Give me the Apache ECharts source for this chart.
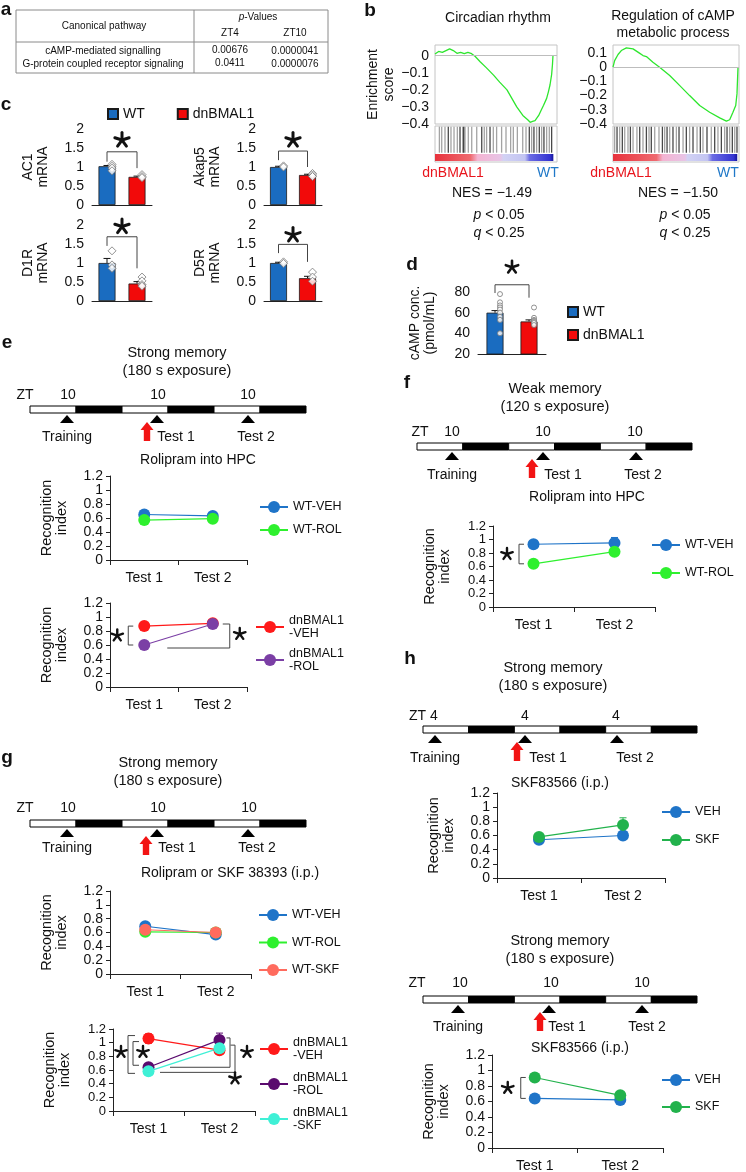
<!DOCTYPE html>
<html><head><meta charset="utf-8">
<script src="https://cdn.jsdelivr.net/npm/echarts@6/dist/echarts.min.js"></script>
<style>html,body{margin:0;padding:0;background:#fff}#c{width:746px;height:1172px}</style>
</head><body><div id="c"></div>
<script>
// ================= DATA =================
// panel a
const tablePathways = ['cAMP-mediated signalling', 'G-protein coupled receptor signaling'];
const tableZT4 = ['0.00676', '0.0411'];
const tableZT10 = ['0.0000041', '0.0000076'];
// panel b (GSEA) : rank (% of gene list) and running enrichment score
const gseaRankL = [0, 3, 6, 9, 12, 15, 18, 21, 24, 27, 30, 33, 37, 42, 48, 53, 59, 63, 67, 72, 76, 78, 80, 82, 85, 87, 89, 91.5, 93, 94.3, 95.6, 96.3, 96.7];
const gseaEsL = [0.01, 0.025, 0.02, 0.03, 0.04, 0.03, 0.014, 0.02, 0.012, 0.02, 0.012, -0.005, -0.035, -0.07, -0.114, -0.155, -0.2, -0.25, -0.3, -0.35, -0.375, -0.39, -0.385, -0.38, -0.35, -0.32, -0.29, -0.25, -0.21, -0.17, -0.11, -0.05, 0.0];
const gseaRankR = [0, 1.3, 4, 6.6, 10.6, 15.9, 21, 23.8, 26.5, 31.7, 37, 45, 53, 60.8, 68.8, 76.7, 84.7, 90, 92.6, 95.2, 97.4, 98.4, 99.2];
const gseaEsR = [0.0, 0.046, 0.089, 0.117, 0.136, 0.129, 0.099, 0.082, 0.075, 0.035, 0.0, -0.059, -0.13, -0.2, -0.27, -0.317, -0.357, -0.38, -0.37, -0.317, -0.27, -0.188, 0.0];
const gseaHitsL = [3.6, 5.5, 8.2, 13.1, 15.6, 18.3, 22.7, 24.6, 27.3, 30.1, 34.2, 40.4, 42.3, 47.8, 50.5, 54.6, 58.2, 62, 64.2, 67.5, 71.9, 74.6, 79.2, 83.3, 87.4, 91.5, 93.7];
const gseaDarkL = [10.9, 20.5, 23.5, 38.3, 45.1, 77.3, 81.1, 85.5, 89.3, 95.6];
const gseaHitsR = [1.3, 5.3, 9.3, 11.9, 15.9, 19, 23.8, 28.6, 33.1, 36.5, 41, 45, 50.3, 55.6, 60.8, 66.7, 71.4, 78, 83.3, 88.6, 92.6, 96.6];
const gseaDarkR = [3.2, 7.4, 13.8, 21.2, 26.5, 30.4, 39.2, 42.9, 47.6, 52.4, 58.2, 63.5, 69.3, 74.6, 80.7, 86, 90.5, 94.7, 98.4];
// panel c
const cGenes = ['AC1', 'Akap5', 'D1R', 'D5R'];
const cGroups = ['WT', 'dnBMAL1'];
const cWT = [1.02, 1.0, 1.0, 1.0];
const cWTErr = [0.02, 0.02, 0.12, 0.02];
const cDn = [0.74, 0.79, 0.46, 0.6];
const cDnErr = [0.02, 0.02, 0.05, 0.05];
const cWTPts = [[1.07, 1.02, 0.97, 0.9], [1.03, 1.0], [1.32, 0.95, 0.86], [1.03, 0.99]];
const cDnPts = [[0.8, 0.75, 0.72], [0.83, 0.79, 0.75], [0.63, 0.53, 0.43, 0.39], [0.76, 0.63, 0.52]];
// panel d
const dWT = 60, dWTErr = 2;
const dDn = 51.5, dDnErr = 1.5;
const dWTPts = [78, 70, 67, 65, 63, 60, 56, 53, 40];
const dDnPts = [65, 55, 53, 52, 51, 50, 48];
// line panels
const testCats = ['Test 1', 'Test 2'];
const eWtVeh = [0.65, 0.63], eWtVehErr = [0.03, 0.03];
const eWtRol = [0.57, 0.59], eWtRolErr = [0.03, 0.03];
const eDnVeh = [0.87, 0.91], eDnVehErr = [0.03, 0.03];
const eDnRol = [0.60, 0.90], eDnRolErr = [0.03, 0.04];
const fWtVeh = [0.93, 0.95], fWtVehErr = [0.03, 0.08];
const fWtRol = [0.64, 0.82], fWtRolErr = [0.03, 0.04];
const gWtVeh = [0.69, 0.57], gWtVehErr = [0.03, 0.03];
const gWtRol = [0.61, 0.60], gWtRolErr = [0.03, 0.03];
const gWtSkf = [0.64, 0.60], gWtSkfErr = [0.03, 0.03];
const gDnVeh = [1.06, 0.89], gDnVehErr = [0.07, 0.04];
const gDnRol = [0.64, 1.04], gDnRolErr = [0.04, 0.10];
const gDnSkf = [0.58, 0.92], gDnSkfErr = [0.03, 0.04];
const hUpVeh = [0.54, 0.60], hUpVehErr = [0.05, 0.05];
const hUpSkf = [0.58, 0.75], hUpSkfErr = [0.04, 0.10];
const hLowVeh = [0.64, 0.62], hLowVehErr = [0.02, 0.03];
const hLowSkf = [0.91, 0.68], hLowSkfErr = [0.03, 0.04];

// ================= STYLE =================
const FONT = "'Liberation Sans', Arial, Helvetica, sans-serif";
const INK = '#111';
const BAR_BLUE = '#1a6cc0', BAR_RED = '#f20a0a';
const C_BLUE = '#1f74c8', C_GREEN = '#2ef02e', C_RED = '#ff1a1a', C_PURPLE = '#7b3fa5',
      C_SALMON = '#ff6b5e', C_DPURPLE = '#5a0a6e', C_CYAN = '#3ff0d6', C_MGREEN = '#22b24c';

const chart = echarts.init(document.getElementById('c'), null, {renderer: 'canvas'});

const grids = [
  {left: 435, top: 45, width: 122, height: 79},   // 0 gsea L
  {left: 435, top: 126, width: 122, height: 36},  // 1 gsea L barcode
  {left: 613, top: 45, width: 126, height: 79},   // 2 gsea R
  {left: 613, top: 126, width: 126, height: 36},  // 3 gsea R barcode
  {left: 92, top: 129, width: 60, height: 76},    // 4 AC1
  {left: 264, top: 129, width: 58, height: 76},   // 5 Akap5
  {left: 92, top: 225, width: 60, height: 76},    // 6 D1R
  {left: 264, top: 225, width: 58, height: 76},   // 7 D5R
  {left: 478, top: 292, width: 68, height: 62},   // 8 d
  {left: 110, top: 476, width: 137, height: 84},  // 9 e up
  {left: 110, top: 603, width: 137, height: 84},  // 10 e low
  {left: 493, top: 526, width: 162, height: 81},  // 11 f
  {left: 110, top: 891, width: 141, height: 83},  // 12 g up
  {left: 113, top: 1029, width: 142, height: 82}, // 13 g low
  {left: 497, top: 793, width: 168, height: 85},  // 14 h up
  {left: 492, top: 1055, width: 171, height: 93}  // 15 h low
].map((g, i) => Object.assign({outerBoundsMode: 'none', containLabel: false,
  show: i < 4, borderColor: '#c4c4c4', borderWidth: 1}, g));

const xAxes = [], yAxes = [], series = [];

function oneDec(v) {
  const r = Math.round(v * 10) / 10;
  if (Math.abs(v - r) > 1e-6) return '';
  return r === 0 ? '0' : String(r).replace('-', '\u2212');
}
const LBL = {hideOverlap: false, showMinLabel: true, showMaxLabel: true, lineHeight: 11};

// ---------- GSEA ----------
function gsea(gCurve, gBar, rank, es, hits, dark, ymax, showName) {
  xAxes.push({gridIndex: gCurve, type: 'value', min: 0, max: 100, show: false});
  yAxes.push({gridIndex: gCurve, type: 'value', min: -0.4, max: ymax, interval: 0.1,
    axisLine: {show: false}, axisTick: {show: false}, splitLine: {show: false},
    axisLabel: Object.assign({fontSize: 14, color: INK, margin: 6, fontFamily: FONT, formatter: oneDec}, LBL),
    name: showName ? 'Enrichment\nscore' : '', nameLocation: 'middle', nameRotate: 90, nameGap: 38,
    nameTextStyle: {fontSize: 14, lineHeight: 16, color: INK, fontFamily: FONT}});
  xAxes.push({gridIndex: gBar, type: 'value', min: 0, max: 100, show: false});
  yAxes.push({gridIndex: gBar, type: 'value', min: 0, max: 1, show: false});
  series.push({type: 'line', xAxisIndex: gCurve, yAxisIndex: gCurve, symbol: 'none',
    data: rank.map((r, i) => [r, es[i]]), lineStyle: {color: '#2ee62e', width: 1.3}, z: 3,
    markLine: {silent: true, symbol: 'none', label: {show: false},
      lineStyle: {color: '#bdbdbd', type: 'solid', width: 1}, data: [{yAxis: 0}]}});
  series.push({type: 'scatter', xAxisIndex: gBar, yAxisIndex: gBar, symbol: 'rect',
    symbolSize: [1.3, 26], data: hits.map(r => [r, 0.62]), itemStyle: {color: '#8c8c8c'}, silent: true});
  series.push({type: 'scatter', xAxisIndex: gBar, yAxisIndex: gBar, symbol: 'rect',
    symbolSize: [1.3, 26], data: dark.map(r => [r, 0.62]), itemStyle: {color: '#1a1a1a'}, silent: true});
}
gsea(0, 1, gseaRankL, gseaEsL, gseaHitsL, gseaDarkL, 0.0627, true);
gsea(2, 3, gseaRankR, gseaEsR, gseaHitsR, gseaDarkR, 0.156, false);

// ---------- error bars ----------
function errSeries(g, data, color, oneSided, width) {
  return {type: 'custom', xAxisIndex: g, yAxisIndex: g, silent: true, z: 2, data: data,
    encode: {x: 0, y: 1},
    renderItem: function (params, api) {
      const x = api.value(0), m = api.value(1), e = api.value(2);
      const t = api.coord([x, m + e]), b = api.coord([x, oneSided ? m : m - e]);
      const cw = width || 3;
      const st = {stroke: color, lineWidth: 1};
      const ch = [
        {type: 'line', shape: {x1: t[0], y1: t[1], x2: b[0], y2: b[1]}, style: st},
        {type: 'line', shape: {x1: t[0] - cw, y1: t[1], x2: t[0] + cw, y2: t[1]}, style: st}];
      if (!oneSided) ch.push({type: 'line', shape: {x1: b[0] - cw, y1: b[1], x2: b[0] + cw, y2: b[1]}, style: st});
      return {type: 'group', children: ch};
    }};
}

// ---------- bar panels (c, d) ----------
function barPanel(g, wt, wtErr, dn, dnErr, wtPts, dnPts, yMin, yMax, step, name, nameGap, ptSymbol, ptSize) {
  xAxes.push({gridIndex: g, type: 'category', data: cGroups, boundaryGap: true,
    axisLine: {show: true, lineStyle: {color: '#222', width: 1}}, axisTick: {show: false}, axisLabel: {show: false}});
  yAxes.push({gridIndex: g, type: 'value', min: yMin, max: yMax, interval: step,
    axisLine: {show: false}, axisTick: {show: false}, splitLine: {show: false},
    axisLabel: Object.assign({fontSize: 14, color: INK, margin: 8, fontFamily: FONT}, LBL),
    name: name, nameLocation: 'middle', nameRotate: 90, nameGap: nameGap,
    nameTextStyle: {fontSize: 14, lineHeight: 15, color: INK, fontFamily: FONT}});
  const bs = {borderColor: '#1a1a1a', borderWidth: 0.8};
  series.push({type: 'bar', name: 'WT', xAxisIndex: g, yAxisIndex: g, data: [wt, '-'], barWidth: 17,
    barGap: '-100%', itemStyle: Object.assign({color: BAR_BLUE}, bs)});
  series.push({type: 'bar', name: 'dnBMAL1', xAxisIndex: g, yAxisIndex: g, data: ['-', dn], barWidth: 17,
    barGap: '-100%', itemStyle: Object.assign({color: BAR_RED}, bs)});
  series.push(errSeries(g, [[0, wt, wtErr], [1, dn, dnErr]], '#111', true, 3.5));
  series.push({type: 'scatter', xAxisIndex: g, yAxisIndex: g, symbol: ptSymbol, symbolSize: ptSize,
    symbolOffset: [5, 0], silent: true, z: 4,
    data: wtPts.map(v => [0, v]).concat(dnPts.map(v => [1, v])),
    itemStyle: {color: '#fff', borderColor: '#777', borderWidth: 1}});
}
for (let i = 0; i < 4; i++) {
  barPanel(4 + i, cWT[i], cWTErr[i], cDn[i], cDnErr[i], cWTPts[i], cDnPts[i], 0, 2, 0.5,
    cGenes[i] + '\nmRNA', 41, 'diamond', 8);
}
barPanel(8, dWT, dWTErr, dDn, dDnErr, dWTPts, dDnPts, 20, 80, 20, 'cAMP conc.\n(pmol/mL)', 40, 'circle', 5);

// ---------- line panels ----------
function linePanel(g, lines, nameGap, lblSize) {
  xAxes.push({gridIndex: g, type: 'category', data: testCats, boundaryGap: true,
    axisLine: {show: true, lineStyle: {color: '#222', width: 1}},
    axisTick: {show: true, length: 5, lineStyle: {color: '#222'}},
    axisLabel: {fontSize: 14, color: INK, margin: 11, fontFamily: FONT}});
  yAxes.push({gridIndex: g, type: 'value', min: 0, max: 1.2, interval: 0.2,
    axisLine: {show: true, lineStyle: {color: '#222', width: 1}},
    axisTick: {show: true, length: 4, lineStyle: {color: '#222'}}, splitLine: {show: false},
    axisLabel: Object.assign({}, LBL, {fontSize: lblSize || 14, lineHeight: 10, color: INK, margin: 7, fontFamily: FONT, formatter: oneDec}),
    name: 'Recognition\nindex', nameLocation: 'middle', nameRotate: 90, nameGap: nameGap,
    nameTextStyle: {fontSize: 14.5, lineHeight: 15, color: INK, fontFamily: FONT}});
  lines.forEach(l => {
    series.push({type: 'line', name: l.name, xAxisIndex: g, yAxisIndex: g, data: l.vals,
      symbol: 'circle', symbolSize: 12, z: 3,
      lineStyle: {color: l.color, width: 1.2}, itemStyle: {color: l.color}});
    series.push(errSeries(g, l.vals.map((v, i) => [i, v, l.err[i]]), l.color, false, 3.5));
  });
}
linePanel(9, [{name: 'WT-VEH', vals: eWtVeh, err: eWtVehErr, color: C_BLUE},
              {name: 'WT-ROL', vals: eWtRol, err: eWtRolErr, color: C_GREEN}], 41);
linePanel(10, [{name: 'dnBMAL1\n-VEH', vals: eDnVeh, err: eDnVehErr, color: C_RED},
               {name: 'dnBMAL1\n-ROL', vals: eDnRol, err: eDnRolErr, color: C_PURPLE}], 41);
linePanel(11, [{name: 'WT-VEH', vals: fWtVeh, err: fWtVehErr, color: C_BLUE},
               {name: 'WT-ROL', vals: fWtRol, err: fWtRolErr, color: C_GREEN}], 41, 13);
linePanel(12, [{name: 'WT-VEH', vals: gWtVeh, err: gWtVehErr, color: C_BLUE},
               {name: 'WT-ROL', vals: gWtRol, err: gWtRolErr, color: C_GREEN},
               {name: 'WT-SKF', vals: gWtSkf, err: gWtSkfErr, color: C_SALMON}], 41);
linePanel(13, [{name: 'dnBMAL1\n-VEH', vals: gDnVeh, err: gDnVehErr, color: C_RED},
               {name: 'dnBMAL1\n-ROL ', vals: gDnRol, err: gDnRolErr, color: C_DPURPLE},
               {name: 'dnBMAL1\n-SKF', vals: gDnSkf, err: gDnSkfErr, color: C_CYAN}], 41, 13);
linePanel(14, [{name: 'VEH', vals: hUpVeh, err: hUpVehErr, color: C_BLUE},
               {name: 'SKF', vals: hUpSkf, err: hUpSkfErr, color: C_MGREEN}], 41);
linePanel(15, [{name: 'VEH', vals: hLowVeh, err: hLowVehErr, color: C_BLUE},
               {name: 'SKF', vals: hLowSkf, err: hLowSkfErr, color: C_MGREEN}], 41);

// ---------- legends ----------
function lineLegend(left, top, names, gap, lh) {
  return {left: left, top: top, orient: 'vertical', padding: 0, itemGap: gap, selectedMode: false,
    itemWidth: 28, itemHeight: 15, data: names,
    textStyle: {fontSize: 12.5, color: INK, fontFamily: FONT, lineHeight: lh}};
}
const legends = [
  {left: 107, top: 107, orient: 'horizontal', padding: 0, itemGap: 32, selectedMode: false, icon: 'rect',
   itemWidth: 10, itemHeight: 10, data: ['WT', 'dnBMAL1'],
   textStyle: {fontSize: 14, color: INK, fontFamily: FONT, lineHeight: 14}},
  {left: 567, top: 305, orient: 'vertical', padding: 0, itemGap: 9, selectedMode: false, icon: 'rect',
   itemWidth: 10, itemHeight: 10, data: ['WT', 'dnBMAL1'],
   textStyle: {fontSize: 14, color: INK, fontFamily: FONT, lineHeight: 14}},
  lineLegend(259, 499.5, ['WT-VEH', 'WT-ROL'], 8, 15),
  lineLegend(255, 614, ['dnBMAL1\n-VEH', 'dnBMAL1\n-ROL'], 7, 13),
  lineLegend(651, 537.5, ['WT-VEH', 'WT-ROL'], 13, 15),
  lineLegend(258, 907.5, ['WT-VEH', 'WT-ROL', 'WT-SKF'], 12.5, 15),
  lineLegend(259, 1036, ['dnBMAL1\n-VEH', 'dnBMAL1\n-ROL ', 'dnBMAL1\n-SKF'], 9, 13),
  lineLegend(661, 804.5, ['VEH', 'SKF'], 13, 15),
  lineLegend(661, 1072.5, ['VEH', 'SKF'], 12, 15)
];

chart.setOption({
  animation: false,
  backgroundColor: '#fff',
  textStyle: {fontFamily: FONT},
  grid: grids, xAxis: xAxes, yAxis: yAxes, series: series, legend: legends
});

// ================= ANNOTATIONS / SCHEMATICS =================
const G = [];
function P(g, x, y) { return chart.convertToPixel({gridIndex: g}, [x, y]); }
function T(x, y, text, o) {
  o = o || {};
  const st = {text: text, x: x, y: y, fill: o.fill || INK, fontSize: o.size || 14, fontFamily: FONT,
    fontWeight: o.weight || 'normal', align: o.align || 'center', verticalAlign: 'middle'};
  if (o.rich) st.rich = o.rich;
  G.push({type: 'text', style: st, z: 10});
}
function L(pts, color, w) {
  G.push({type: 'polyline', shape: {points: pts}, style: {stroke: color || '#333', lineWidth: w || 1, fill: null}, z: 10});
}
function star(cx, cy, r) {
  for (let k = 0; k < 5; k++) {
    const a = -Math.PI / 2 + k * 2 * Math.PI / 5;
    G.push({type: 'line', shape: {x1: cx, y1: cy, x2: cx + r * Math.cos(a), y2: cy + r * Math.sin(a)},
      style: {stroke: '#111', lineWidth: r * 0.4, lineCap: 'round'}, z: 11});
  }
}
const IT = {i: {fontStyle: 'italic', fontSize: 14, fontFamily: FONT, fill: INK}};

// panel labels
[['a', 6, 10], ['b', 370, 11], ['c', 6, 105], ['d', 412, 265], ['e', 7, 343], ['f', 407, 383], ['g', 7, 758], ['h', 410, 659]]
  .forEach(l => T(l[1], l[2], l[0], {size: 19, weight: 'bold'}));

// panel a table
G.push({type: 'rect', shape: {x: 16, y: 10, width: 312, height: 63}, style: {fill: null, stroke: '#8a8a8a', lineWidth: 1}});
L([[16, 42], [328, 42]], '#8a8a8a');
L([[194, 10], [194, 73]], '#8a8a8a');
T(104, 26, 'Canonical pathway', {size: 10});
T(258, 17, '{t|p}-Values', {size: 10, rich: {t: {fontStyle: 'italic', fontSize: 10, fontFamily: FONT, fill: INK}}});
T(230, 33, 'ZT4', {size: 10}); T(295, 33, 'ZT10', {size: 10});
tablePathways.forEach((p, i) => {
  const y = [51.5, 64][i];
  T(103, y, p, {size: 10});
  T(230, y - 1, tableZT4[i], {size: 10});
  T(295, y, tableZT10[i], {size: 10});
});

// panel b
T(498, 18, 'Circadian rhythm', {size: 14});
T(673, 16, 'Regulation of cAMP', {size: 14});
T(673, 33, 'metabolic process', {size: 14});
function colorbar(g, endRank, s) {
  const a = P(g, 0, 0.22), b = P(g, endRank, 0.03);
  G.push({type: 'rect', shape: {x: a[0], y: a[1], width: b[0] - a[0], height: b[1] - a[1]},
    style: {fill: new echarts.graphic.LinearGradient(0, 0, 1, 0, s)}, z: 5});
}
colorbar(1, 97, [{offset: 0, color: '#e8323c'}, {offset: 0.3, color: '#ef6a70'}, {offset: 0.36, color: '#f4b4d2'},
  {offset: 0.55, color: '#e8c4e6'}, {offset: 0.58, color: '#d2d2f4'}, {offset: 0.76, color: '#c2c4f2'},
  {offset: 0.8, color: '#6c6ce4'}, {offset: 0.97, color: '#3434d2'}, {offset: 1, color: '#16169a'}]);
colorbar(3, 98.6, [{offset: 0, color: '#e8323c'}, {offset: 0.35, color: '#ef6a70'}, {offset: 0.4, color: '#f4b4d2'},
  {offset: 0.58, color: '#e8c4e6'}, {offset: 0.6, color: '#d2d2f4'}, {offset: 0.76, color: '#c2c4f2'},
  {offset: 0.8, color: '#6c6ce4'}, {offset: 0.97, color: '#3434d2'}, {offset: 1, color: '#16169a'}]);
T(453, 173, 'dnBMAL1', {size: 14, fill: '#e8141c'});
T(548, 173, 'WT', {size: 14, fill: '#1f78c8'});
T(621, 173, 'dnBMAL1', {size: 14, fill: '#e8141c'});
T(728, 173, 'WT', {size: 14, fill: '#1f78c8'});
T(492, 193, 'NES = \u22121.49', {size: 14});
T(499, 215, '{i|p} < 0.05', {size: 14, rich: IT});
T(499, 233, '{i|q} < 0.25', {size: 14, rich: IT});
T(678, 193, 'NES = \u22121.50', {size: 14});
T(685, 215, '{i|p} < 0.05', {size: 14, rich: IT});
T(685, 233, '{i|q} < 0.25', {size: 14, rich: IT});

// panel c / d significance brackets (data units)
function barBracket(g, top, lLeg, rLeg, starY, r) {
  const a = P(g, 0, top), b = P(g, 1, top), la = P(g, 0, lLeg), rb = P(g, 1, rLeg), s = P(g, 0, starY);
  L([[a[0], la[1]], [a[0], a[1]], [b[0], b[1]], [b[0], rb[1]]], '#444');
  star((a[0] + b[0]) / 2, s[1], r);
}
barBracket(4, 1.40, 1.14, 0.97, 1.71, 7.5);
barBracket(5, 1.42, 1.18, 1.0, 1.71, 7.5);
barBracket(6, 1.69, 1.45, 0.86, 1.96, 7.5);
barBracket(7, 1.49, 1.26, 1.03, 1.74, 7.5);
barBracket(8, 87, 79, 74.5, 104, 6.5);

// line-panel brackets (anchored on data points)
function leftBracket(g, v1, v2, dx, arm) {
  const p1 = P(g, 0, v1), p2 = P(g, 0, v2);
  const x = p1[0] + dx;
  L([[x + arm, p1[1]], [x, p1[1]], [x, p2[1]], [x + arm, p2[1]]], '#444');
  return {x: x, y1: p1[1], y2: p2[1]};
}
let b;
// e lower
b = leftBracket(10, eDnVeh[0], eDnRol[0], -16, 5);
star(b.x - 11, (b.y1 + b.y2) / 2, 6);
(function () {
  const t = P(10, 1, eDnRol[1]), bt = P(10, 0, eDnRol[0]);
  const x = t[0] + 17, yb = bt[1] + 3;
  L([[t[0] + 10, t[1]], [x, t[1]], [x, yb], [bt[0] + 23, yb]], '#444');
  star(x + 10, (t[1] + yb) / 2 - 2, 6);
})();
// f
b = leftBracket(11, fWtVeh[0], fWtRol[0], -14.5, 5);
star(b.x - 12, (b.y1 + b.y2) / 2, 6);
// g lower
(function () {
  const g = 13;
  const veh1 = P(g, 0, gDnVeh[0]), rol1 = P(g, 0, gDnRol[0]), skf1 = P(g, 0, gDnSkf[0]);
  const rol2 = P(g, 1, gDnRol[1]), skf2 = P(g, 1, gDnSkf[1]);
  const xo = veh1[0] - 20.5, xi = veh1[0] - 15.5;
  L([[xo + 7, veh1[1] - 3], [xo, veh1[1] - 3], [xo, skf1[1] + 2], [xo + 7, skf1[1] + 2]], '#444');
  L([[xi + 6, veh1[1] + 3], [xi, veh1[1] + 3], [xi, rol1[1] - 2], [xi + 6, rol1[1] - 2]], '#444');
  star(xo - 7, (veh1[1] + skf1[1]) / 2 - 3, 6);
  star(xi + 10, (veh1[1] + skf1[1]) / 2 - 3, 6);
  const xr1 = rol2[0] + 10.5, xr2 = rol2[0] + 15.5;
  L([[rol2[0] + 7, rol2[1] - 2], [xr1, rol2[1] - 2], [xr1, rol1[1]], [rol1[0] + 21.5, rol1[1]]], '#444');
  L([[skf2[0] + 11, skf2[1] - 3], [xr2, skf2[1] - 3], [xr2, skf1[1] + 1], [skf1[0] + 11.5, skf1[1] + 1]], '#444');
  star(xr2 + 12, (veh1[1] + skf1[1]) / 2 - 3, 6);
  star(xr2, skf1[1] + 7, 6);
})();
// h lower
b = leftBracket(15, hLowSkf[0], hLowVeh[0], -14, 5);
star(b.x - 13, (b.y1 + b.y2) / 2, 6);

// timeline schematics
function timeline(c) {
  const w = (c.x1 - c.x0) / 6;
  for (let i = 0; i < 6; i++) {
    G.push({type: 'rect', shape: {x: c.x0 + i * w, y: c.top, width: w, height: 7},
      style: {fill: i % 2 ? '#000' : '#fff', stroke: '#000', lineWidth: 1}});
  }
  c.tri.forEach(x => G.push({type: 'polygon', shape: {points: [[x, c.top + 9], [x - 7, c.top + 17], [x + 7, c.top + 17]]},
    style: {fill: '#000'}}));
  if (c.ztLeft) T(c.ztLeft, c.numY, c.zt, {size: 14, align: 'left'}); else T(c.ztX, c.numY, 'ZT', {size: 14});
  c.nums.forEach(n => T(n[0], c.numY, n[1], {size: 14}));
  T(c.tri[0], c.labY, 'Training', {size: 14});
  T(c.t1X, c.labY, 'Test 1', {size: 14});
  T(c.t2X, c.labY, 'Test 2', {size: 14});
  const ax = c.arrowX, at = c.top + 16, ab = at + 19;
  G.push({type: 'polygon', shape: {points: [[ax, at], [ax + 6.5, at + 8], [ax + 3.2, at + 8], [ax + 3.2, ab],
    [ax - 3.2, ab], [ax - 3.2, at + 8], [ax - 6.5, at + 8]]}, style: {fill: '#f21414'}});
  T(c.drugX, c.drugY, c.drug, {size: 14});
  T(c.titleX, c.titleY, c.title1, {size: 14.5});
  T(c.titleX, c.titleY + 18, c.title2, {size: 14.5});
}
timeline({x0: 30, x1: 306, top: 406, tri: [67, 157, 248], ztX: 25, numY: 395,
  nums: [[68, '10'], [158, '10'], [248, '10']], labY: 437, t1X: 176, t2X: 256, arrowX: 147,
  drug: 'Rolipram into HPC', drugX: 198, drugY: 460, title1: 'Strong memory', title2: '(180 s exposure)', titleX: 177, titleY: 353});
timeline({x0: 417, x1: 692, top: 443, tri: [452, 543, 636], ztX: 420, numY: 432,
  nums: [[452, '10'], [543, '10'], [635, '10']], labY: 475, t1X: 563, t2X: 643, arrowX: 532,
  drug: 'Rolipram into HPC', drugX: 587, drugY: 497, title1: 'Weak memory', title2: '(120 s exposure)', titleX: 555, titleY: 389});
timeline({x0: 30, x1: 306, top: 820, tri: [67, 157, 248], ztX: 25, numY: 808,
  nums: [[68, '10'], [158, '10'], [249, '10']], labY: 848, t1X: 177, t2X: 257, arrowX: 146,
  drug: 'Rolipram or SKF 38393 (i.p.)', drugX: 230, drugY: 873, title1: 'Strong memory', title2: '(180 s exposure)', titleX: 168, titleY: 763});
timeline({x0: 423, x1: 697, top: 726, tri: [435, 525, 617], ztLeft: 409, zt: 'ZT 4', numY: 716,
  nums: [[525, '4'], [616, '4']], labY: 758, t1X: 548, t2X: 635, arrowX: 517,
  drug: 'SKF83566 (i.p.)', drugX: 560, drugY: 783, title1: 'Strong memory', title2: '(180 s exposure)', titleX: 553, titleY: 668});
timeline({x0: 423, x1: 697, top: 996, tri: [458, 549, 642], ztX: 417, numY: 983,
  nums: [[460, '10'], [551, '10'], [642, '10']], labY: 1027, t1X: 567, t2X: 647, arrowX: 540,
  drug: 'SKF83566 (i.p.)', drugX: 580, drugY: 1048, title1: 'Strong memory', title2: '(180 s exposure)', titleX: 560, titleY: 941});

chart.setOption({graphic: {elements: G}});
</script>
</body></html>
